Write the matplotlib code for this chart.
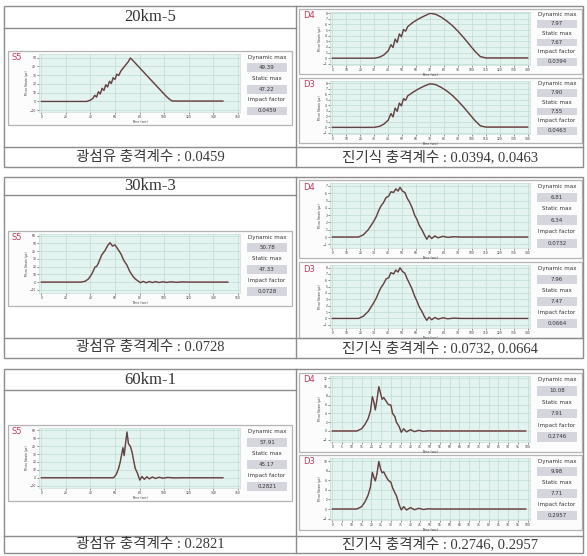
import matplotlib.pyplot as plt
from matplotlib.patches import Rectangle
from matplotlib.lines import Line2D

W, H = 587, 556

# ---- 20km-5 ----
s5_20_t = [0, 37, 40, 42, 43.5, 45, 46.5, 48, 49.5, 51, 52.5, 54, 55.5, 57, 58.5, 60, 61.5, 63,
           65, 67, 69, 71, 72.5, 74, 77, 80, 83, 86, 89, 92, 95, 98, 101, 104, 106.5, 110, 148]
s5_20_v = [0, 0, 1.5, 3.5, 7, 5, 11, 8.5, 15, 12.5, 19, 16.5, 23, 20.5, 27, 25, 31, 29.5,
           35, 38.5, 42, 45.5, 49.39, 47.5, 43, 38.5, 34, 29.5, 25, 20.5, 16, 11.5, 7, 3, 0.6, 0.4, 0.4]
d_20_t = [0, 30, 34, 37, 40, 42, 43.5, 45, 46.5, 48, 49.5, 51, 52.5, 54, 58, 62, 66, 70,
          74, 78, 82, 86, 90, 94, 98, 102, 106, 110, 140]
d4_20_v = [0, 0, 0.2, 0.6, 1.3, 2.4, 1.9, 3.4, 2.8, 4.3, 3.8, 5.1, 4.8, 5.6, 6.4, 7.0, 7.5, 7.97,
           7.8, 7.3, 6.6, 5.8, 4.8, 3.7, 2.5, 1.3, 0.3, 0.05, 0.05]
d3_20_v = [0, 0, 0.2, 0.6, 1.3, 2.5, 1.9, 3.5, 2.9, 4.4, 3.9, 5.2, 4.9, 5.7, 6.4, 7.0, 7.5, 7.90,
           7.75, 7.25, 6.6, 5.8, 4.8, 3.7, 2.5, 1.3, 0.3, 0.05, 0.05]
static_20 = [47.22, 7.67, 7.55]
impact_20 = [0.0459, 0.0394, 0.0463]

# ---- 30km-3 ----
s5_30_t = [0, 32, 35.6, 38.3, 41, 43.8, 45, 46.5, 49.2, 52, 54, 56, 58, 60, 63, 65, 67, 69.7,
           72, 74.4, 76.6, 78.8, 80.7, 83, 85.5, 88, 90.5, 93, 96, 99, 102, 106, 110, 115, 120, 152]
s5_30_v = [0, 0, 1, 4, 10, 19.6, 20, 24.5, 35, 41, 47, 50.78, 46.5, 48, 41, 36, 28.6, 22,
           14, 8, 4, 1.5, -0.8, 1, -0.8, 0.8, -0.6, 0.6, -0.5, 0.5, -0.4, 0.4, -0.3, 0.3, 0, 0]
d_30_t = [0, 18.7, 22.2, 25.7, 29.2, 31.5, 33.4, 35, 36.6, 38.5, 40.4, 42, 43.9, 45.5, 47.1,
          48.5, 50.2, 52, 53.7, 55.3, 57.2, 59, 60.7, 62.3, 64.2, 66, 67.7, 69.3, 71.2, 73.5,
          75.8, 79.3, 82.8, 87, 92, 140]
d4_30_v = [0, 0, 0.3, 1.0, 2.0, 2.8, 3.7, 4.3, 4.7, 5.4, 5.6, 6.2, 6.1, 6.6, 6.3,
           6.81, 6.3, 6.1, 5.3, 4.8, 4.0, 3.0, 2.4, 1.6, 1.0, 0.3, -0.3, 0.2, -0.2, 0.15,
           -0.1, 0.1, -0.05, 0.05, 0, 0]
d3_30_v = [0, 0, 0.35, 1.1, 2.3, 3.2, 4.2, 4.9, 5.4, 6.2, 6.4, 7.2, 7.0, 7.6, 7.3,
           7.96, 7.4, 7.1, 6.2, 5.5, 4.6, 3.5, 2.7, 1.8, 1.1, 0.3, -0.3, 0.2, -0.2, 0.15,
           -0.1, 0.1, -0.05, 0.05, 0, 0]
static_30 = [47.33, 6.34, 7.47]
impact_30 = [0.0728, 0.0732, 0.0664]

# ---- 60km-1 ----
s5_60_t = [0, 58.8, 61, 63, 64.3, 65.5, 66.5, 67.5, 68.5, 69.8, 71, 72.5, 74, 75.2, 76.5, 78.5,
           80.2, 82, 84, 86, 88, 90.5, 93, 96, 99, 103, 108, 114, 148]
s5_60_v = [0, 0, 4, 12, 20, 30, 38, 28, 42, 57.91, 43, 40, 32, 22, 12, 5,
           -3, 1.5, -2, 1.2, -1.4, 0.9, -0.9, 0.6, -0.5, 0.4, -0.2, 0, 0]
d_60_t = [0, 12.5, 15, 16.7, 18.3, 19.5, 20.5, 21.3, 22, 22.8, 23.8, 24.7, 25.5, 26.3, 27.5,
          28.7, 30, 30.8, 32, 32.8, 34.2, 35.3, 36.5, 38, 40, 42, 44.2, 46.7, 49.2, 52, 99]
d4_60_v = [0, 0, 0.5, 1.5, 2.8, 4.5, 7.8, 6.5, 4.8, 7.0, 10.08, 8.5, 7.2, 7.6, 6.8,
           6.0, 5.9, 4.0, 3.3, 2.0, 1.0, -0.3, 0.5, -0.2, 0.3, -0.15, 0.15, -0.1, 0.05, 0, 0]
d3_60_v = [0, 0, 0.5, 1.5, 2.9, 4.6, 7.7, 6.6, 5.9, 7.3, 9.98, 8.4, 7.6, 7.8, 6.8,
           6.0, 5.6, 4.5, 3.4, 2.8, 0.9, -0.2, 0.5, -0.2, 0.3, -0.15, 0.15, -0.1, 0.05, 0, 0]
static_60 = [45.17, 7.91, 7.71]
impact_60 = [0.2821, 0.2746, 0.2957]

titles = ['20km-5', '30km-3', '60km-1']

fig = plt.figure(figsize=(W / 100, H / 100), dpi=100)
fig.patch.set_facecolor('white')

CAP_FONT = ['Liberation Serif', 'Noto Sans CJK KR']


def px_rect(x0, y0, x1, y1):
    return [x0 / W, 1 - y1 / H, (x1 - x0) / W, (y1 - y0) / H]


def frame(x0, y0, x1, y1, **kw):
    fig.add_artist(Rectangle((x0 / W, 1 - y1 / H), (x1 - x0) / W, (y1 - y0) / H,
                             transform=fig.transFigure, **kw))


def line(x0, y0, x1, y1, **kw):
    fig.add_artist(Line2D([x0 / W, x1 / W], [1 - y0 / H, 1 - y1 / H],
                          transform=fig.transFigure, **kw))


def chart(box, tag, t, v, xticks, ylim, yticks, static_max, impact, bottom_pad):
    x0, y0, x1, y1 = box
    # box behind the axes
    frame(x0, y0, x1, y1, fc='#fcfcfc', ec='#b4b4b4', lw=0.9, zorder=-1)
    ax = fig.add_axes(px_rect(x0 + 31, y0 + 3, x1 - 52, y1 - bottom_pad))
    ax.set_facecolor('#e3f3ef')
    ax.plot(t, v, color='#cf7a7a', lw=1.1, solid_joinstyle='round')
    ax.plot(t, v, color='#454545', lw=0.75)
    span = xticks[-1] - xticks[0]
    ax.set_xlim(xticks[0] - span * 0.012, xticks[-1] + span * 0.012)
    ax.set_ylim(*ylim)
    ax.set_xticks(xticks)
    ax.set_yticks(yticks)
    ax.grid(True, color='#bfdcd5', lw=0.5)
    ax.set_axisbelow(True)
    ax.tick_params(labelsize=2.2, length=1.2, width=0.4, pad=0.8, colors='#333333')
    for s in ax.spines.values():
        s.set_color('#c6ddd8')
        s.set_linewidth(0.5)
    ax.set_xlabel('Time (sec)', fontsize=2.2, labelpad=0.6, color='#333333')
    ax.set_ylabel('Micro Strain (\u03bc\u03b5)', fontsize=2.2, labelpad=0.6, color='#333333')

    fig.text((x0 + 4) / W, 1 - (y0 + 7) / H, tag, color='#c8385a', fontsize=6, va='center')

    # info panel on the right side of the chart box
    h = y1 - y0
    cx = x1 - 25
    rows = [0.085, 0.225, 0.37, 0.515, 0.66, 0.81]
    texts = ['Dynamic max', f'{max(v):.2f}', 'Static max', f'{static_max:.2f}',
             'Impact factor', f'{impact:.4f}']
    for i, (r, s) in enumerate(zip(rows, texts)):
        y = y0 + r * h
        if i % 2 == 1:
            bh = 0.12 * h
            frame(cx - 20, y - bh / 2, cx + 20, y + bh / 2, fc='#d5d5dd', ec='none')
        fig.text(cx / W, 1 - y / H, s, fontsize=4, ha='center', va='center', color='#333333')


s5_ticks = list(range(0, 161, 20))
d_ticks = list(range(0, 141, 10))
d_ticks_60 = list(range(0, 101, 5))

# group frames: top, title line, caption line, bottom
groups = [(6, 28, 147, 167), (177, 195, 338, 358), (369, 390, 536, 553)]
for (top, tl, cl, bot), title in zip(groups, titles):
    frame(4, top, 583, bot, fc='none', ec='#8c8c8c', lw=1.0)
    line(296, top, 296, bot, color='#8c8c8c', lw=1.0)
    line(4, tl, 296, tl, color='#8c8c8c', lw=1.0)
    line(4, cl, 583, cl, color='#8c8c8c', lw=1.0)
    fig.text(150 / W, 1 - (top + tl) / 2 / H, title, fontsize=12, ha='center', va='center',
             family='Liberation Serif', color='#333333')

# 20km-5
chart((8, 51, 292, 125), 'S5', s5_20_t, s5_20_v, s5_ticks, (-12, 54), list(range(-10, 51, 10)),
      static_20[0], impact_20[0], 13)
chart((299, 9, 582, 74), 'D4', d_20_t, d4_20_v, d_ticks, (-1.2, 8.2), list(range(-1, 9)),
      static_20[1], impact_20[1], 9)
chart((299, 78, 582, 143), 'D3', d_20_t, d3_20_v, d_ticks, (-1.2, 8.4), list(range(-1, 9)),
      static_20[2], impact_20[2], 9)

# 30km-3
chart((8, 231, 292, 306), 'S5', s5_30_t, s5_30_v, s5_ticks, (-14, 62), list(range(-10, 61, 10)),
      static_30[0], impact_30[0], 13)
chart((299, 180, 582, 258), 'D4', d_30_t, d4_30_v, d_ticks, (-1.5, 7.4), list(range(-1, 8)),
      static_30[1], impact_30[1], 10)
chart((299, 262, 582, 338), 'D3', d_30_t, d3_30_v, d_ticks, (-1.5, 8.4), list(range(-1, 9)),
      static_30[2], impact_30[2], 10)

# 60km-1
chart((8, 425, 292, 501), 'S5', s5_60_t, s5_60_v, s5_ticks, (-13, 63), list(range(-10, 61, 10)),
      static_60[0], impact_60[0], 13)
chart((299, 373, 582, 452), 'D4', d_60_t, d4_60_v, d_ticks_60, (-2.5, 12.5), list(range(-2, 13, 2)),
      static_60[1], impact_60[1], 10)
chart((299, 455, 582, 530), 'D3', d_60_t, d3_60_v, d_ticks_60, (-2.3, 10.7), list(range(-2, 11, 2)),
      static_60[2], impact_60[2], 10)

# caption rows
for (top, tl, cl, bot), imp in zip(groups, [impact_20, impact_30, impact_60]):
    yc = 1 - (cl + bot) / 2 / H
    fig.text(150 / W, yc, f'광섬유 충격계수 : {imp[0]:.4f}', fontsize=10.5, ha='center',
             va='center', family=CAP_FONT, color='#3a3a3a')
    fig.text(440 / W, yc, f'진기식 충격계수 : {imp[1]:.4f}, {imp[2]:.4f}', fontsize=10.5,
             ha='center', va='center', family=CAP_FONT, color='#3a3a3a')

fig.savefig('out.png', dpi=100, facecolor='white')
